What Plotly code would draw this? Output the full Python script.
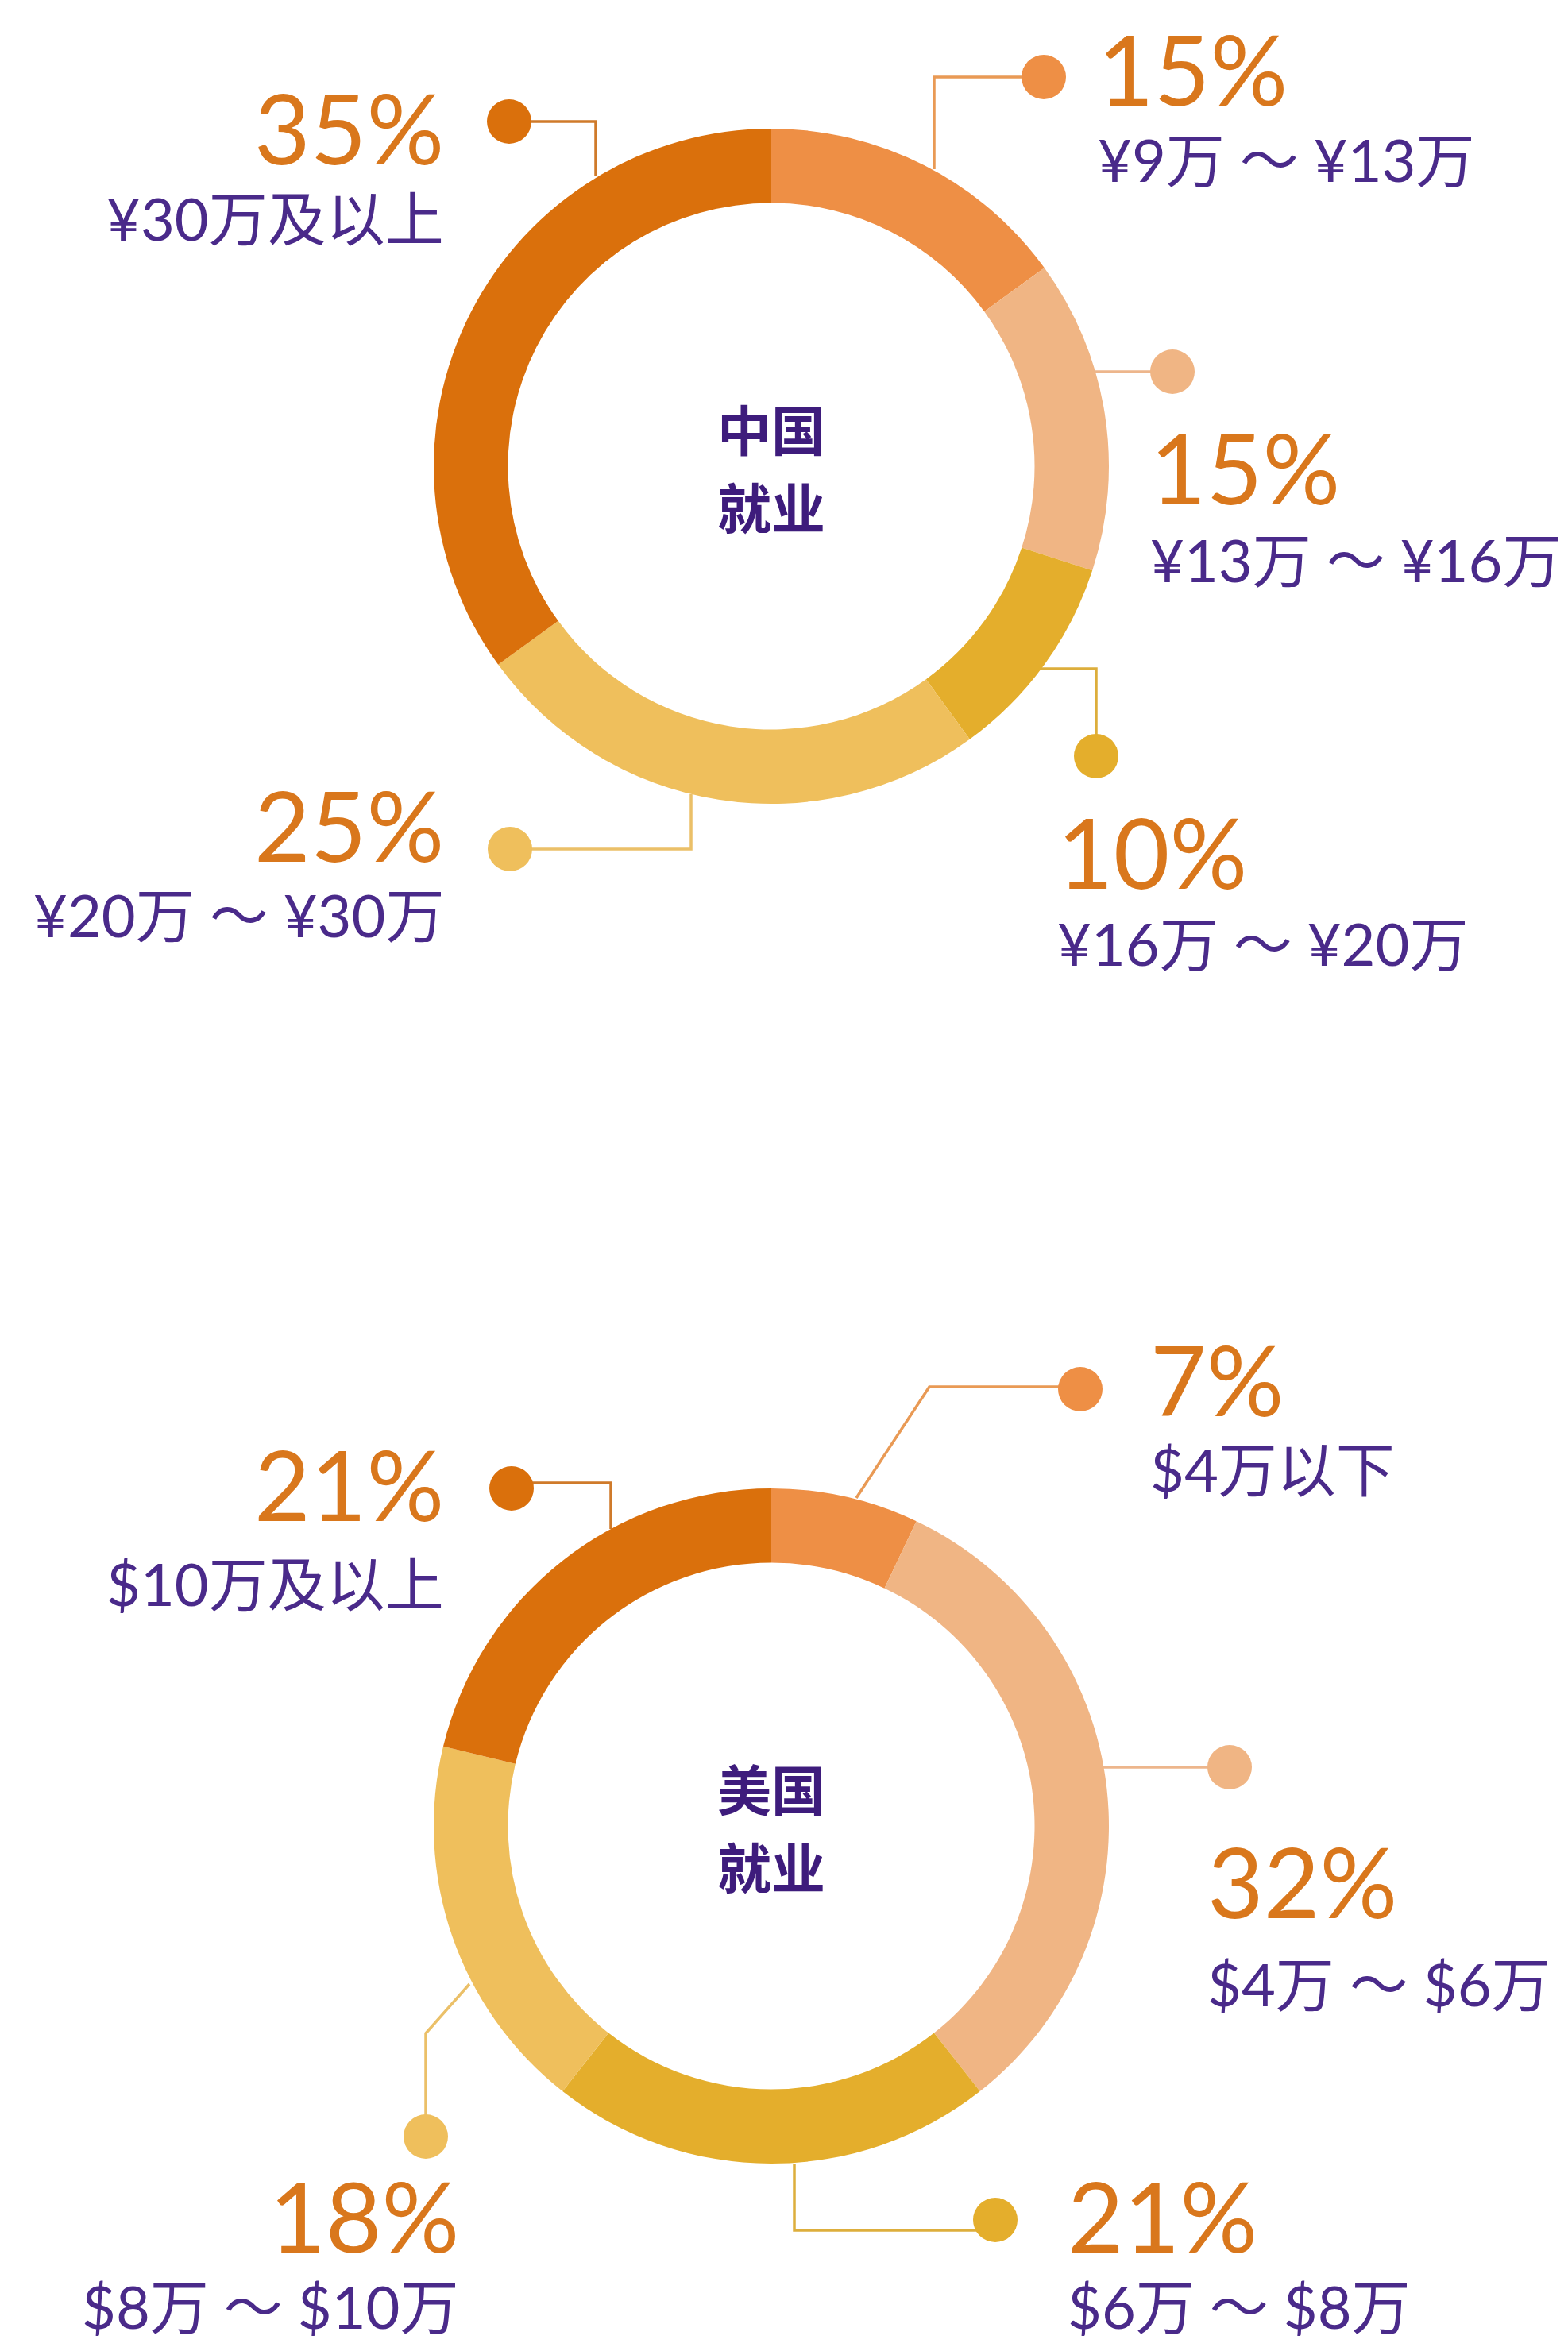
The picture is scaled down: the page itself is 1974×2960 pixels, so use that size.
import plotly.graph_objects as go

# ---------------- data ----------------
china_labels = ["¥9万 ～ ¥13万", "¥13万 ～ ¥16万", "¥16万 ～ ¥20万", "¥20万 ～ ¥30万", "¥30万及以上"]
china_values = [15, 15, 10, 25, 35]
us_labels = ["$4万以下", "$4万 ～ $6万", "$6万 ～ $8万", "$8万 ～ $10万", "$10万及以上"]
us_values = [7, 32, 21, 18, 21]
center_titles = [["中国", "就业"], ["美国", "就业"]]

# ---------------- styling ----------------
W, H = 1974, 2960
slice_colors = ["#EE8F45", "#F0B584", "#E4AE2C", "#EFBF5C", "#DA700C"]
line_colors = ["#E99A55", "#EDB68C", "#DDAE3C", "#EBC068", "#CF7A2A"]
pct_color = "#D9771C"
lab_color = "#4A2A8A"
ctr_color = "#3E1C7C"
PCT_SIZE = 122
LAB_SIZE = 74
CTR_SIZE = 68
R = 425
HOLE = 0.78
DOT_R = 28
LW = 3.5

centers = [(963, 579), (963, 2291)]
ctr_offsets = [-49, 49]

# leader geometry per chart/slice (pixels): path points, dot centre,
# text anchor (x, pct y, label y, side)
leaders = [
    [  # China
        dict(path=[(1168, 205), (1168, 89)], dot=(1306, 89), tx=1372, py=78, ly=192, side="left"),
        dict(path=[(1371, 460)], dot=(1468, 460), tx=1438, py=580, ly=696, side="left"),
        dict(path=[(1303, 834), (1372, 834)], dot=(1372, 944), tx=1321, py=1064, ly=1179, side="left"),
        dict(path=[(862, 992), (862, 1061)], dot=(634, 1061), tx=553, py=1030, ly=1143, side="right"),
        dict(path=[(742, 214), (742, 145)], dot=(633, 145), tx=553, py=152, ly=266, side="right"),
    ],
    [  # US
        dict(path=[(1070, 1878), (1162, 1738)], dot=(1352, 1741), tx=1438, py=1728, ly=1841, side="left"),
        dict(path=[(1381, 2217)], dot=(1540, 2217), tx=1510, py=2360, ly=2489, side="left"),
        dict(path=[(992, 2716), (992, 2800), (1245, 2800)], dot=(1245, 2787), tx=1334, py=2781, ly=2895, side="left"),
        dict(path=[(583, 2490), (528, 2552)], dot=(528, 2682), tx=572, py=2781, ly=2895, side="right"),
        dict(path=[(761, 1917), (761, 1859)], dot=(636, 1866), tx=553, py=1860, ly=1985, side="right"),
    ],
]

fig = go.Figure()

datasets = [(china_labels, china_values), (us_labels, us_values)]
for (labels, values), (cx, cy) in zip(datasets, centers):
    fig.add_trace(go.Pie(
        labels=labels, values=values, sort=False, direction="clockwise", rotation=0,
        hole=HOLE, textinfo="none", hoverinfo="label+percent",
        marker=dict(colors=slice_colors, line=dict(width=0)),
        domain=dict(x=[(cx - R) / W, (cx + R) / W], y=[1 - (cy + R) / H, 1 - (cy - R) / H]),
        showlegend=False,
    ))

shapes = []
annotations = []
for (labels, values), chart_leaders in zip(datasets, leaders):
    for i, (lab, val, ld) in enumerate(zip(labels, values, chart_leaders)):
        col = line_colors[i]
        allpts = list(ld["path"])
        last = allpts[-1]
        dx, dy = ld["dot"]
        allpts.append((dx, last[1]) if abs(last[1] - dy) < 20 else (last[0], dy))
        path = "M " + " L ".join(f"{x},{y}" for x, y in allpts)
        shapes.append(dict(type="path", path=path, xref="x", yref="y",
                           line=dict(color=col, width=LW), layer="below"))
        shapes.append(dict(type="circle", xref="x", yref="y",
                           x0=dx - DOT_R, x1=dx + DOT_R, y0=dy - DOT_R, y1=dy + DOT_R,
                           fillcolor=slice_colors[i], line=dict(width=0)))
        annotations.append(dict(
            text=f"{val}%", x=ld["tx"], y=ld["py"], xref="x", yref="y",
            xanchor=ld["side"], yanchor="middle", showarrow=False,
            font=dict(family="Lato, Noto Sans", size=PCT_SIZE, color=pct_color)))
        annotations.append(dict(
            text=lab, x=ld["tx"], y=ld["ly"], xref="x", yref="y",
            xanchor=ld["side"], yanchor="middle", showarrow=False,
            font=dict(family="Lato, Noto Sans CJK SC", size=LAB_SIZE, color=lab_color)))

for lines, (cx, cy) in zip(center_titles, centers):
    for line, off in zip(lines, ctr_offsets):
        annotations.append(dict(
            text=line, x=cx, y=cy + off, xref="x", yref="y", xanchor="center", yanchor="middle",
            showarrow=False,
            font=dict(family="Noto Sans CJK SC", size=CTR_SIZE, color=ctr_color, weight="bold")))

fig.update_layout(
    width=W, height=H, margin=dict(l=0, r=0, t=0, b=0),
    paper_bgcolor="white", plot_bgcolor="rgba(0,0,0,0)",
    xaxis=dict(range=[0, W], visible=False, domain=[0, 1], fixedrange=True),
    yaxis=dict(range=[H, 0], visible=False, domain=[0, 1], fixedrange=True),
    shapes=shapes, annotations=annotations, showlegend=False,
)

fig.write_html("out.html")
